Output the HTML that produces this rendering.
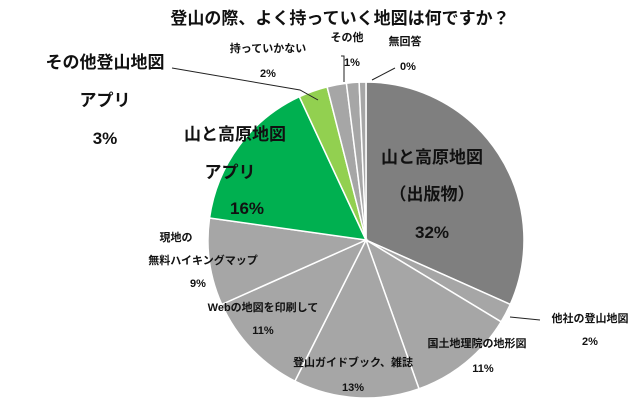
<!DOCTYPE html>
<html><head><meta charset="utf-8"><style>
body{margin:0;background:#fff;}
svg text{font-family:"Liberation Sans","Noto Sans CJK JP",sans-serif;font-weight:bold;fill:#111;}
</style></head><body>
<svg id="s" width="640" height="406" viewBox="0 0 640 406" xmlns="http://www.w3.org/2000/svg">
<rect width="640" height="406" fill="#fff"/>
<g id="pie"></g>
<text x="340" y="24" font-size="17" text-anchor="middle">登山の際、よく持っていく地図は何ですか？</text>
<text x="105" y="68" font-size="17" text-anchor="middle">その他登山地図</text>
<text x="105" y="106" font-size="17" text-anchor="middle">アプリ</text>
<text x="105" y="144" font-size="17" text-anchor="middle">3%</text>
<polyline points="172,68 300,90 318,100" fill="none" stroke="#222" stroke-width="1"/>
<text x="235" y="140" font-size="17" text-anchor="middle">山と高原地図</text>
<text x="230" y="178" font-size="17" text-anchor="middle">アプリ</text>
<text x="230" y="214" font-size="17">16%</text>
<text x="268" y="52" font-size="11" text-anchor="middle">持っていかない</text>
<text x="268" y="77" font-size="11" text-anchor="middle">2%</text>
<text x="347" y="41" font-size="11" text-anchor="middle">その他</text>
<text x="352" y="66" font-size="11" text-anchor="middle">1%</text>
<polyline points="341,56 344,56 344,82" fill="none" stroke="#222" stroke-width="1"/>
<text x="405" y="45" font-size="11" text-anchor="middle">無回答</text>
<text x="408" y="70" font-size="11" text-anchor="middle">0%</text>
<polyline points="395,68 372,80" fill="none" stroke="#222" stroke-width="1"/>
<text x="432" y="163" font-size="17" text-anchor="middle">山と高原地図</text>
<text x="432" y="200" font-size="17" text-anchor="middle">（出版物）</text>
<text x="432" y="238" font-size="17" text-anchor="middle">32%</text>
<text x="590" y="322" font-size="11" text-anchor="middle">他社の登山地図</text>
<text x="590" y="345" font-size="11" text-anchor="middle">2%</text>
<polyline points="510,317 540,320" fill="none" stroke="#222" stroke-width="1"/>
<text x="477" y="347" font-size="11" text-anchor="middle">国土地理院の地形図</text>
<text x="483" y="372" font-size="11" text-anchor="middle">11%</text>
<text x="353" y="366" font-size="11" text-anchor="middle">登山ガイドブック、雑誌</text>
<text x="353" y="391" font-size="11" text-anchor="middle">13%</text>
<text x="263" y="311" font-size="11" text-anchor="middle">Webの地図を印刷して</text>
<text x="263" y="334" font-size="11" text-anchor="middle">11%</text>
<text x="176" y="241" font-size="11" text-anchor="middle">現地の</text>
<text x="203" y="264" font-size="11" text-anchor="middle">無料ハイキングマップ</text>
<text x="198" y="287" font-size="11" text-anchor="middle">9%</text>
</svg>
<script>
var cx=366,cy=240,r=158;
var d=[[32,"#7f7f7f"],[2,"#a6a6a6"],[11,"#a6a6a6"],[13,"#a6a6a6"],[11,"#a6a6a6"],[9,"#a6a6a6"],[16,"#00b050"],[3,"#92d050"],[2,"#a6a6a6"],[1.3,"#a6a6a6"],[0.7,"#a6a6a6"]];
var tot=0;d.forEach(function(x){tot+=x[0];});
var a=0,h="";
function p(t){return (cx+r*Math.sin(t)).toFixed(2)+","+(cy-r*Math.cos(t)).toFixed(2);}
d.forEach(function(x){var b=a+x[0]/tot*2*Math.PI;
h+='<path d="M'+cx+','+cy+' L'+p(a)+' A'+r+','+r+' 0 '+(b-a>Math.PI?1:0)+' 1 '+p(b)+' Z" fill="'+x[1]+'" stroke="#fff" stroke-width="1.5"/>';a=b;});
document.getElementById("pie").innerHTML=h;
</script>
</body></html>
